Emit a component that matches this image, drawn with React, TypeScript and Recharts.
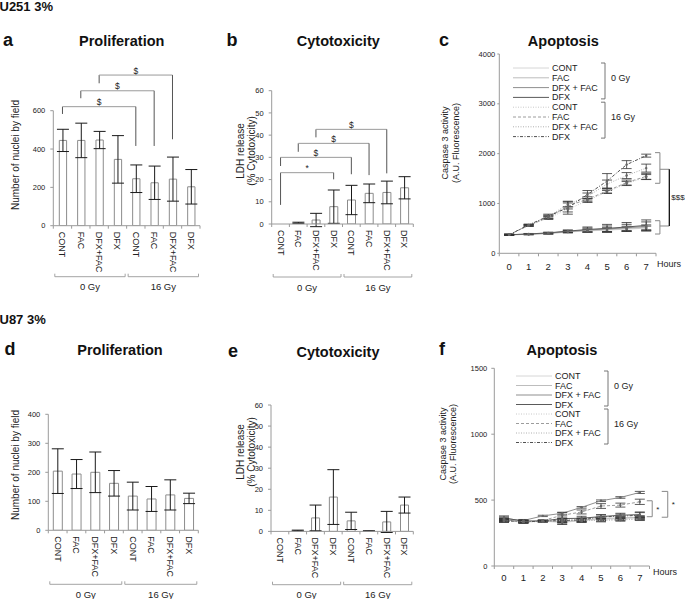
import React from 'react'
import { BarChart, Bar, LineChart, Line, XAxis, YAxis, ErrorBar, ReferenceLine, Legend } from 'recharts'

const FONT = '"Liberation Sans", Arial, Helvetica, sans-serif'
const INK = '#222'
const AXIS = '#9a9a9a'
const BRACKET = '#9a9a9a'
const LEG = '#555'

// ---- bar panels: 8 conditions, two doses
const CONDITIONS = ['CONT', 'FAC', 'DFX+FAC', 'DFX', 'CONT', 'FAC', 'DFX+FAC', 'DFX']
const DOSES = ['0 Gy', '0 Gy', '0 Gy', '0 Gy', '16 Gy', '16 Gy', '16 Gy', '16 Gy']

// a: U251 proliferation (nuclei / field)
const A_MEAN = [445, 445, 447, 346, 245, 224, 243, 203]
const A_SD = [58, 90, 45, 124, 72, 87, 115, 90]
// b: U251 cytotoxicity (% LDH)
const B_MEAN = [0, 0.5, 1.8, 7.8, 10.8, 13.8, 14.2, 16.3]
const B_SD = [0, 0.3, 3, 7.5, 6.6, 4.2, 5.1, 5]
// d: U87 proliferation
const D_MEAN = [204, 194, 200, 162, 118, 108, 122, 110]
const D_SD = [77, 50, 70, 44, 48, 43, 52, 18]
// e: U87 cytotoxicity
const E_MEAN = [0, 0.4, 6.4, 16.3, 5.0, 0.2, 4.5, 12.5]
const E_SD = [0, 0.2, 6.1, 13, 4.1, 0.1, 5, 3.8]

// significance brackets: [from bar, to bar, level, left leg end, right leg end, mark]
type Sig = [number, number, number, number, number, string]
const A_SIG: Sig[] = [
  [0, 4, 621, 583, 416, '$'],
  [1, 5, 704, 665, 416, '$'],
  [2, 6, 786, 743, 451, '$'],
]
const B_SIG: Sig[] = [
  [0, 3, 23.1, 8.6, 20.1, '*'],
  [0, 4, 30, 26.1, 22.4, '$'],
  [1, 5, 36.3, 32.5, 22, '$'],
  [2, 6, 42.6, 39, 22.8, '$'],
]

// ---- apoptosis panels: caspase 3 activity per hour
const HOURS = [0, 1, 2, 3, 4, 5, 6, 7]
const LINE_NAMES = ['CONT', 'FAC', 'DFX + FAC', 'DFX', 'CONT', 'FAC', 'DFX + FAC', 'DFX']

// c: U251
const C_CONT_0 = [370, 380, 395, 425, 450, 465, 485, 505]
const C_FAC_0 = [370, 382, 400, 432, 458, 475, 498, 520]
const C_DFXFAC_0 = [372, 385, 405, 438, 468, 488, 512, 540]
const C_DFX_0 = [372, 388, 410, 445, 478, 500, 528, 560]
const C_CONT_16 = [372, 555, 710, 880, 1060, 1230, 1400, 1530]
const C_FAC_16 = [372, 560, 720, 950, 1085, 1250, 1420, 1545]
const C_DFXFAC_16 = [372, 565, 735, 985, 1140, 1390, 1560, 1710]
const C_DFX_16 = [372, 570, 745, 915, 1180, 1450, 1780, 1960]
const C_CONT_0_E = [8, 8, 10, 15, 25, 30, 35, 40]
const C_FAC_0_E = [8, 8, 12, 18, 30, 40, 45, 50]
const C_DFXFAC_0_E = [8, 10, 12, 20, 40, 60, 70, 90]
const C_DFX_0_E = [8, 10, 15, 25, 50, 80, 90, 110]
const C_CONT_16_E = [10, 15, 30, 50, 40, 30, 40, 50]
const C_FAC_16_E = [10, 15, 30, 60, 50, 40, 50, 60]
const C_DFXFAC_16_E = [10, 15, 30, 50, 70, 80, 60, 80]
const C_DFX_16_E = [10, 15, 40, 130, 80, 150, 80, 30]

// f: U87
const F_CONT_0 = [355, 335, 340, 330, 345, 355, 360, 365]
const F_FAC_0 = [350, 340, 343, 335, 348, 360, 365, 370]
const F_DFXFAC_0 = [360, 345, 380, 400, 445, 495, 520, 558]
const F_DFX_0 = [365, 340, 342, 360, 362, 375, 385, 390]
const F_CONT_16 = [345, 333, 338, 340, 340, 350, 355, 360]
const F_FAC_16 = [350, 338, 345, 385, 410, 455, 462, 487]
const F_DFXFAC_16 = [340, 335, 340, 348, 350, 345, 350, 355]
const F_DFX_16 = [345, 335, 340, 345, 350, 372, 378, 385]
const F_CONT_0_E = [10, 10, 5, 15, 10, 10, 10, 10]
const F_FAC_0_E = [10, 10, 5, 15, 10, 12, 12, 12]
const F_DFXFAC_0_E = [12, 8, 5, 8, 6, 6, 6, 8]
const F_DFX_0_E = [15, 10, 5, 20, 15, 15, 15, 20]
const F_CONT_16_E = [10, 8, 5, 10, 10, 10, 10, 10]
const F_FAC_16_E = [10, 8, 5, 20, 15, 18, 15, 20]
const F_DFXFAC_16_E = [10, 8, 5, 10, 10, 10, 10, 10]
const F_DFX_16_E = [10, 8, 5, 15, 15, 15, 15, 20]

// right-hand brackets: [end x, bracket x, top, bottom, middle] (hours, A.U.)
const C_BRACKETS = [
  [7.45, 7.7, 2020, 1405, 1686],
  [7.45, 7.7, 654, 387, 548],
]
const C_LINK_X = 8.18
const F_BRACKETS = [
  [7.36, 7.64, 495, 374],
  [8.13, 8.44, 566, 370],
]

const LINE_LOOK = [
  { stroke: '#d6d6d6' },
  { stroke: '#bdbdbd' },
  { stroke: '#8f8f8f' },
  { stroke: '#5a5a5a' },
  { stroke: '#c8c8c8', dash: '1 1.5' },
  { stroke: '#9c9c9c', dash: '3 2' },
  { stroke: '#b0b0b0', dash: '1 1.5' },
  { stroke: '#505050', dash: '3 1.5 1 1.5' },
]

const barRows = (mean: number[], sd: number[]) =>
  CONDITIONS.map((c, i) => ({ key: `${c}|${DOSES[i]}`, dose: DOSES[i], mean: mean[i], sd: sd[i] }))

const lineRows = (vals: number[][], errs: number[][]) =>
  HOURS.map((h, i) => {
    const r: any = { hour: h }
    vals.forEach((v, k) => {
      r['s' + k] = v[i]
      r['e' + k] = errs[k][i]
    })
    return r
  })

function CatTick({ x, y, payload, index, band }: any) {
  const label = String(payload.value).split('|')[0]
  return (
    <g>
      <line x1={x - band / 2} x2={x - band / 2} y1={y} y2={y + 3} stroke={AXIS} />
      {index === CONDITIONS.length - 1 && <line x1={x + band / 2} x2={x + band / 2} y1={y} y2={y + 3} stroke={AXIS} />}
      <text x={x} y={y + 6} transform={`rotate(90 ${x} ${y + 6})`} textAnchor="start" dominantBaseline="central"
        fontSize={9} fill={INK} fontFamily={FONT}>{label}</text>
    </g>
  )
}

function DoseTick({ x, y, payload, band }: any) {
  const l = x - band / 2 + 1.5
  const r = x + band / 2 - 1.5
  return (
    <g>
      <path d={`M${l},${y - 2}V${y + 1}H${r}V${y - 2}`} fill="none" stroke={AXIS} strokeWidth={0.9} />
      <text x={x} y={y + 11} textAnchor="middle" dominantBaseline="central" fontSize={9.5} fill={INK} fontFamily={FONT}>
        {payload.value}
      </text>
    </g>
  )
}

function HourTick({ x, y, payload, index, step, dy }: any) {
  return (
    <g>
      <line x1={x - step / 2} x2={x - step / 2} y1={y} y2={y + 3} stroke={AXIS} />
      {index === HOURS.length - 1 && <line x1={x + step / 2} x2={x + step / 2} y1={y} y2={y + 3} stroke={AXIS} />}
      <text x={x} y={y + dy} textAnchor="middle" dominantBaseline="central" fontSize={9.5} fill={INK} fontFamily={FONT}>
        {payload.value}
      </text>
    </g>
  )
}

function BarPanel({ box, m, yW, xH, gH, domain, ticks, mean, sd, sig, barSize }: any) {
  const rows = barRows(mean, sd)
  const plotW = box.w - m.left - m.right - yW
  const band = plotW / rows.length
  return (
    <div style={{ position: 'absolute', left: box.x, top: box.y }}>
      <BarChart width={box.w} height={box.h} data={rows} margin={m} barCategoryGap={0}>
        <XAxis dataKey="key" interval={0} height={xH} tickSize={0} tickMargin={0} tickLine={false}
          axisLine={{ stroke: AXIS }} tick={(p: any) => <CatTick {...p} band={band} />} />
        <XAxis xAxisId="dose" dataKey="dose" allowDuplicatedCategory={false} interval={0} height={gH}
          axisLine={false} tickLine={false} tickSize={0} tickMargin={0}
          tick={(p: any) => <DoseTick {...p} band={plotW / 2} />} />
        <YAxis domain={domain} ticks={ticks} allowDataOverflow width={yW} tickSize={3} tickMargin={5}
          axisLine={{ stroke: AXIS }} tickLine={{ stroke: AXIS }}
          tick={{ fontSize: 7.5, fill: INK, fontFamily: FONT }} />
        <Bar dataKey="mean" barSize={barSize} fill="#fff" stroke="#8c8c8c" strokeWidth={1} isAnimationActive={false}>
          <ErrorBar dataKey="sd" width={6} stroke="#1a1a1a" strokeWidth={1} />
        </Bar>
        {(sig || []).flatMap(([a, b, lvl, la, lb, mark]: Sig, k: number) => {
          const xa = rows[a].key
          const xb = rows[b].key
          return [
            <ReferenceLine key={`l${k}`} segment={[{ x: xa, y: la }, { x: xa, y: lvl }]} stroke={LEG} ifOverflow="visible" />,
            <ReferenceLine key={`h${k}`} segment={[{ x: xa, y: lvl }, { x: xb, y: lvl }]} stroke={BRACKET} ifOverflow="visible"
              label={{ value: mark, position: 'top', offset: 1.5, fontSize: 8.5, fill: INK, fontFamily: FONT }} />,
            <ReferenceLine key={`r${k}`} segment={[{ x: xb, y: lvl }, { x: xb, y: lb }]} stroke={LEG} ifOverflow="visible" />,
          ]
        })}
      </BarChart>
    </div>
  )
}

function LegendBox({ rowH }: { rowH: number }) {
  const rowY = (i: number) => 6 + i * rowH
  return (
    <svg width={135} height={rowH * 8 + 8} style={{ overflow: 'visible', display: 'block' }}>
      {LINE_NAMES.map((n, i) => (
        <g key={i}>
          <line x1={0} x2={36} y1={rowY(i)} y2={rowY(i)} stroke={LINE_LOOK[i].stroke} strokeDasharray={LINE_LOOK[i].dash} />
          <text x={39} y={rowY(i)} dominantBaseline="central" fontSize={9} fill={INK} fontFamily={FONT}>{n}</text>
        </g>
      ))}
      {['0 Gy', '16 Gy'].map((d, g) => {
        const t = rowY(g * 4) - 5
        const b = rowY(g * 4 + 3) + 1.5
        const bx = 92
        return (
          <g key={d}>
            <path d={`M${bx - 4},${t}H${bx}V${b}H${bx - 4}`} fill="none" stroke="#666" strokeWidth={0.9} />
            <text x={bx + 6} y={(t + b) / 2 - 3} dominantBaseline="central" fontSize={9} fill={INK} fontFamily={FONT}>{d}</text>
          </g>
        )
      })}
    </svg>
  )
}

function LinePanel({ box, m, yW, xH, domain, ticks, vals, errs, legendPos, rowH, yTick, hoursOff, digitDy, children }: any) {
  const rows = lineRows(vals, errs)
  const plotW = box.w - m.left - m.right - yW
  const step = plotW / HOURS.length
  return (
    <div style={{ position: 'absolute', left: box.x, top: box.y }}>
      <LineChart width={box.w} height={box.h} data={rows} margin={m}>
        <XAxis type="number" dataKey="hour" domain={[-0.5, 7.5]} ticks={HOURS} allowDataOverflow interval={0} height={xH}
          tickSize={0} tickMargin={0} tickLine={false} axisLine={{ stroke: AXIS }}
          tick={(p: any) => <HourTick {...p} step={step} dy={digitDy} />}
          label={{ value: 'Hours', position: 'right', offset: hoursOff, fontSize: 9, fill: INK, fontFamily: FONT }} />
        <YAxis domain={domain} ticks={ticks} allowDataOverflow width={yW} tickSize={yTick[0]} tickMargin={yTick[1]}
          axisLine={{ stroke: AXIS }} tickLine={{ stroke: AXIS }}
          tick={{ fontSize: 7.5, fill: INK, fontFamily: FONT }} />
        {vals.map((_: number[], k: number) => (
          <Line key={k} dataKey={'s' + k} name={LINE_NAMES[k]} stroke={LINE_LOOK[k].stroke} strokeDasharray={LINE_LOOK[k].dash}
            strokeWidth={1} dot={{ r: 1.2, fill: '#666', stroke: 'none' }} isAnimationActive={false}>
            <ErrorBar dataKey={'e' + k} width={5} stroke="#333" strokeWidth={0.8} direction="y" />
          </Line>
        ))}
        <Legend layout="vertical" align="center" verticalAlign="middle"
          wrapperStyle={{ left: legendPos[0], top: legendPos[1], width: 135, height: rowH * 8 + 8 }}
          content={() => <LegendBox rowH={rowH} />} />
        {children}
      </LineChart>
    </div>
  )
}

const seg = (x0: number, y0: number, x1: number, y1: number, key: string, stroke: string, extra: any = {}) => (
  <ReferenceLine key={key} segment={[{ x: x0, y: y0 }, { x: x1, y: y1 }]} stroke={stroke} ifOverflow="visible" {...extra} />
)

export default function App() {
  const cBrackets = C_BRACKETS.flatMap(([e, bx, t, b, mid], k) => [
    seg(e, t, bx, t, `ct${k}`, '#888'),
    seg(bx, t, bx, b, `cv${k}`, '#888'),
    seg(e, b, bx, b, `cb${k}`, '#888'),
    seg(bx, mid, C_LINK_X, mid, `cm${k}`, '#888'),
  ])
  const cLink = seg(C_LINK_X, C_BRACKETS[0][4], C_LINK_X, C_BRACKETS[1][4], 'clink', '#111', {
    strokeWidth: 1.3,
    label: { value: '$$$', position: 'right', offset: 2, fontSize: 8, fill: INK, fontFamily: FONT },
  })
  const fBrackets = F_BRACKETS.flatMap(([e, bx, t, b], k) => [
    seg(e, t, bx, t, `ft${k}`, '#888'),
    seg(bx, t, bx, b, `fv${k}`, '#888', {
      label: { value: '*', position: 'right', offset: 4, fontSize: 8, fill: INK, fontFamily: FONT },
    }),
    seg(e, b, bx, b, `fb${k}`, '#888'),
  ])

  const title = { fontFamily: FONT, fontWeight: 700, fontSize: 14.5, fill: '#111', textAnchor: 'middle' as const }
  const letter = { fontFamily: FONT, fontWeight: 700, fontSize: 18, fill: '#111' }
  const head = { fontFamily: FONT, fontWeight: 700, fontSize: 13, fill: '#111' }
  const ylab = (x: number, y: number, t: string, size = 10) => (
    <text key={t + x} transform={`translate(${x},${y}) rotate(-90)`} textAnchor="middle" dominantBaseline="central"
      fontSize={size} fill={INK} fontFamily={FONT}>{t}</text>
  )

  return (
    <div style={{ position: 'absolute', left: 0, top: 0, width: 685, height: 599, background: '#fff', overflow: 'hidden', fontFamily: FONT }}>
      <BarPanel box={{ x: 0, y: 60, w: 215, h: 240 }} m={{ top: 50.7, right: 15, bottom: 4.3, left: 13.3 }}
        yW={40} xH={50} gH={20} domain={[0, 600]} ticks={[0, 200, 400, 600]} mean={A_MEAN} sd={A_SD} sig={A_SIG} barSize={7.3} />
      <BarPanel box={{ x: 220, y: 60, w: 200, h: 240 }} m={{ top: 30.7, right: 6.7, bottom: 4, left: 13.7 }}
        yW={38} xH={52} gH={20} domain={[0, 60]} ticks={[0, 10, 20, 30, 40, 50, 60]} mean={B_MEAN} sd={B_SD} sig={B_SIG} barSize={8} />
      <LinePanel box={{ x: 440, y: 50, w: 245, h: 250 }} m={{ top: 4, right: 29, bottom: 25.3, left: 14.3 }}
        yW={45} xH={21.4} domain={[0, 4000]} ticks={[0, 1000, 2000, 3000, 4000]} yTick={[2, 2]} hoursOff={1} digitDy={13.4}
        vals={[C_CONT_0, C_FAC_0, C_DFXFAC_0, C_DFX_0, C_CONT_16, C_FAC_16, C_DFXFAC_16, C_DFX_16]}
        errs={[C_CONT_0_E, C_FAC_0_E, C_DFXFAC_0_E, C_DFX_0_E, C_CONT_16_E, C_FAC_16_E, C_DFXFAC_16_E, C_DFX_16_E]}
        legendPos={[73, 12]} rowH={9.8}>
        {cBrackets}
        {cLink}
      </LinePanel>

      <BarPanel box={{ x: 0, y: 360, w: 215, h: 239 }} m={{ top: 54.3, right: 16.7, bottom: 0.7, left: 13.3 }}
        yW={35} xH={53} gH={15} domain={[0, 400]} ticks={[0, 100, 200, 300, 400]} mean={D_MEAN} sd={D_SD} sig={[]} barSize={9} />
      <BarPanel box={{ x: 220, y: 360, w: 200, h: 239 }} m={{ top: 45, right: 6.7, bottom: 0.3, left: 13 }}
        yW={38} xH={52.3} gH={15} domain={[0, 60]} ticks={[0, 10, 20, 30, 40, 50, 60]} mean={E_MEAN} sd={E_SD} sig={[]} barSize={8} />
      <LinePanel box={{ x: 440, y: 350, w: 245, h: 249 }} m={{ top: 18.3, right: 35.5, bottom: 21.6, left: 9.3 }}
        yW={45} xH={11.4} domain={[0, 1500]} ticks={[0, 500, 1000, 1500]} yTick={[3, 4]} hoursOff={3.5} digitDy={11.7}
        vals={[F_CONT_0, F_FAC_0, F_DFXFAC_0, F_DFX_0, F_CONT_16, F_FAC_16, F_DFXFAC_16, F_DFX_16]}
        errs={[F_CONT_0_E, F_FAC_0_E, F_DFXFAC_0_E, F_DFX_0_E, F_CONT_16_E, F_FAC_16_E, F_DFXFAC_16_E, F_DFX_16_E]}
        legendPos={[76, 20]} rowH={9.5}>
        {fBrackets}
      </LinePanel>

      <svg width={685} height={599} style={{ position: 'absolute', left: 0, top: 0, pointerEvents: 'none' }}>
        <text x={-0.5} y={10.5} {...head}>U251 3%</text>
        <text x={-0.5} y={323.5} {...head}>U87 3%</text>

        <text x={3} y={46} {...letter}>a</text>
        <text x={226.5} y={46} {...letter}>b</text>
        <text x={439} y={45.7} {...letter}>c</text>
        <text x={4.5} y={355} {...letter}>d</text>
        <text x={228} y={356.7} {...letter}>e</text>
        <text x={439} y={355} {...letter}>f</text>

        <text x={121.7} y={46} {...title}>Proliferation</text>
        <text x={338.3} y={46} {...title}>Cytotoxicity</text>
        <text x={563.3} y={45.7} {...title}>Apoptosis</text>
        <text x={120} y={355} {...title}>Proliferation</text>
        <text x={338} y={356.7} {...title}>Cytotoxicity</text>
        <text x={562} y={355} {...title}>Apoptosis</text>

        {ylab(15, 155, 'Number of nuclei by field')}
        {ylab(240, 151, 'LDH release')}
        {ylab(251, 151, '(% Cytotoxicity)')}
        {ylab(445, 143, 'Caspase 3 activity', 9)}
        {ylab(455.5, 143, '(A.U. Fluorescence)', 9)}
        {ylab(15, 465, 'Number of nuclei by field')}
        {ylab(240, 452, 'LDH release')}
        {ylab(251, 452, '(% Cytotoxicity)')}
        {ylab(442.7, 444, 'Caspase 3 activity', 9)}
        {ylab(452.7, 444, '(A.U. Fluorescence)', 9)}
      </svg>
    </div>
  )
}
